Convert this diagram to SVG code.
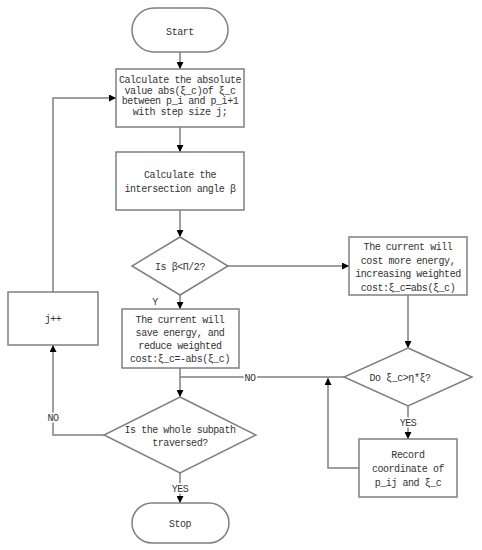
<svg xmlns="http://www.w3.org/2000/svg" width="482" height="550" viewBox="0 0 482 550">
<defs>
<style>
.n{fill:#fff;stroke:#7f7f7f;stroke-width:1.5}
.c{fill:none;stroke:#7f7f7f;stroke-width:1.5}
text{font-family:"Liberation Mono","DejaVu Sans Mono",monospace;font-size:10px;letter-spacing:-0.45px;fill:#333;text-anchor:middle}
.lb{paint-order:stroke;stroke:#fff;stroke-width:3px}
</style>
<marker id="a" viewBox="0 0 10 10" refX="10" refY="5" markerWidth="7" markerHeight="7" markerUnits="userSpaceOnUse" orient="auto">
<path d="M0,0L10,5L0,10z" fill="#000"/>
</marker>
</defs>
<rect width="482" height="550" fill="#fff"/>
<g id="connectors">
<path class="c" d="M180,52V69" marker-end="url(#a)"/>
<path class="c" d="M180,127V152" marker-end="url(#a)"/>
<path class="c" d="M180,210V237" marker-end="url(#a)"/>
<path class="c" d="M180,295V309" marker-end="url(#a)"/>
<path class="c" d="M228,266H349" marker-end="url(#a)"/>
<path class="c" d="M408,295V348" marker-end="url(#a)"/>
<path class="c" d="M408,406V439" marker-end="url(#a)"/>
<path class="c" d="M359,468H328V378" marker-end="url(#a)"/>
<path class="c" d="M344,377H180"/>
<path class="c" d="M180,368V397" marker-end="url(#a)"/>
<path class="c" d="M180,473V503" marker-end="url(#a)"/>
<path class="c" d="M106,435H53V345" marker-end="url(#a)"/>
<path class="c" d="M53,292V98H116" marker-end="url(#a)"/>
<text class="lb" x="155" y="305">Y</text>
<text class="lb" x="408" y="426">YES</text>
<text class="lb" x="250" y="381">NO</text>
<text class="lb" x="180" y="492">YES</text>
<text class="lb" x="53" y="421">NO</text>
</g>
<g id="start">
<rect class="n" x="132" y="8" width="96" height="44" rx="22"/>
<text x="180" y="35">Start</text>
</g>
<g id="calc-abs">
<rect class="n" x="116" y="69" width="128" height="58"/>
<text x="180" y="83">Calculate the absolute</text>
<text x="180" y="93.5">value abs(ξ_c)of ξ_c</text>
<text x="180" y="104">between p_i and p_i+1</text>
<text x="180" y="114.5">with step size j;</text>
</g>
<g id="calc-angle">
<rect class="n" x="116" y="152" width="128" height="58"/>
<text x="180" y="178">Calculate the</text>
<text x="180" y="192">intersection angle β</text>
</g>
<g id="is-beta">
<path class="n" d="M180,237L228,266L180,295L132,266z"/>
<text x="180" y="270">Is β&lt;Π/2?</text>
</g>
<g id="save-energy">
<rect class="n" x="122" y="309" width="117" height="59"/>
<text x="180" y="323">The current will</text>
<text x="180" y="336">save energy, and</text>
<text x="180" y="349">reduce weighted</text>
<text x="180" y="362">cost:ξ_c=-abs(ξ_c)</text>
</g>
<g id="cost-more">
<rect class="n" x="349" y="237" width="118" height="58"/>
<text x="408" y="250">The current will</text>
<text x="408" y="263.5">cost more energy,</text>
<text x="408" y="277">increasing weighted</text>
<text x="408" y="290.5">cost:ξ_c=abs(ξ_c)</text>
</g>
<g id="do-xi">
<path class="n" d="M408,348L472,377L408,406L344,377z"/>
<text x="400" y="381">Do ξ_c&gt;η*ξ?</text>
</g>
<g id="record">
<rect class="n" x="359" y="439" width="98" height="58"/>
<text x="408" y="458">Record</text>
<text x="408" y="472">coordinate of</text>
<text x="408" y="486">p_ij and ξ_c</text>
</g>
<g id="traversed">
<path class="n" d="M180,397L256,435L180,473L104,435z"/>
<text x="180" y="433">Is the whole subpath</text>
<text x="180" y="446">traversed?</text>
</g>
<g id="j-inc">
<rect class="n" x="8" y="292" width="90" height="53"/>
<text x="53" y="322">j++</text>
</g>
<g id="stop">
<rect class="n" x="132" y="503" width="97" height="40" rx="20"/>
<text x="180" y="527">Stop</text>
</g>
</svg>
